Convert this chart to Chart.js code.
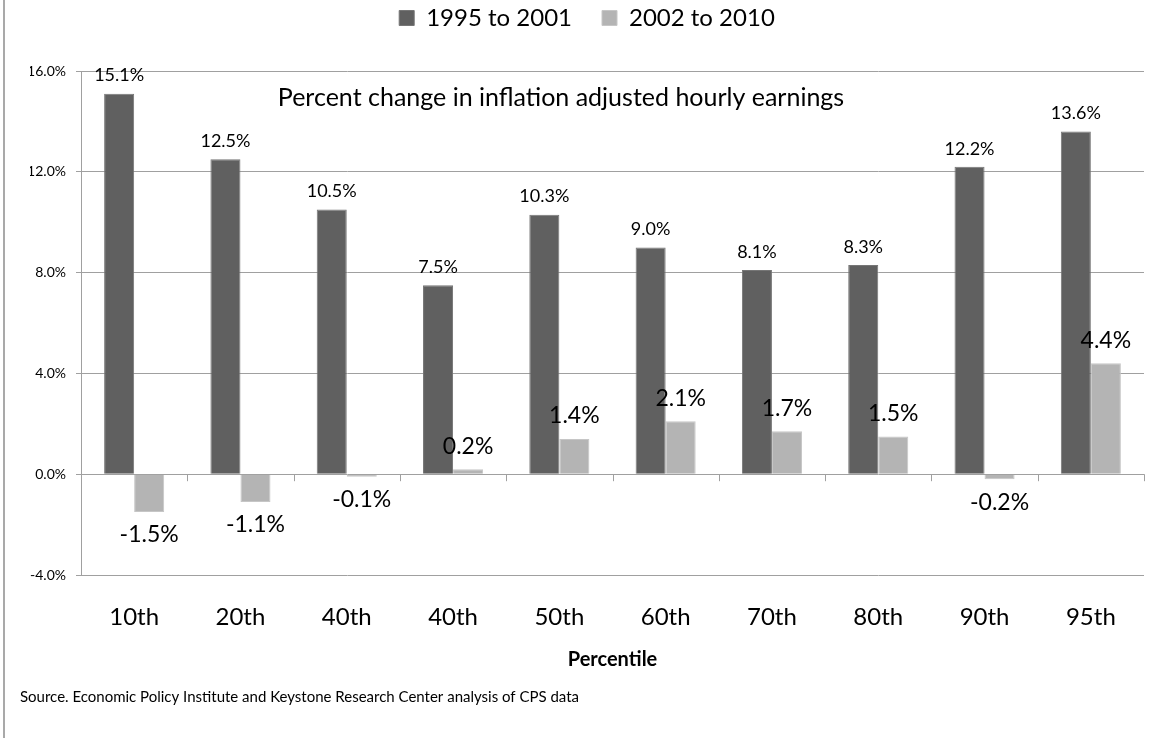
<!DOCTYPE html>
<html>
<head>
<meta charset="utf-8">
<script src="https://cdn.jsdelivr.net/npm/chart.js@4.4.1/dist/chart.umd.min.js"></script>
<style>
  html, body { margin: 0; padding: 0; background: #fff; }
  #wrap { position: relative; width: 1154px; height: 738px; }
  #edge { position: absolute; left: 3px; top: 0; width: 2px; height: 738px; background: #a9a9a9; }
  canvas { display: block; }
</style>
</head>
<body>
<div id="wrap">
  <div id="edge"></div>
  <canvas id="chart" width="1154" height="738"></canvas>
</div>
<script>
// percentile groups and the two periods
var percentiles = ['10th', '20th', '40th', '40th', '50th', '60th', '70th', '80th', '90th', '95th'];
var early = [15.1, 12.5, 10.5, 7.5, 10.3, 9.0, 8.1, 8.3, 12.2, 13.6];   // 1995 to 2001
var late = [-1.5, -1.1, -0.1, 0.2, 1.4, 2.1, 1.7, 1.5, -0.2, 4.4];      // 2002 to 2010
var seriesNames = ['1995 to 2001', '2002 to 2010'];
var yTicks = [-4, 0, 4, 8, 12, 16];

var FONT = 'Lato';
var pct = v => v.toFixed(1) + '%';

// value labels above / below every bar
var barLabels = {
  id: 'barLabels',
  afterDatasetsDraw(chart) {
    var ctx = chart.ctx;
    ctx.save();
    ctx.fillStyle = '#000';
    ctx.textAlign = 'center';
    ctx.textBaseline = 'middle';
    chart.data.datasets.forEach((ds, i) => {
      var meta = chart.getDatasetMeta(i);
      var size = i == 0 ? 18 : 23;
      var gap = i == 0 ? 18 : 23;
      ctx.font = size + 'px ' + FONT;
      meta.data.forEach((bar, j) => {
        var v = ds.data[j];
        var y = v >= 0 ? bar.y - gap : bar.y + gap;
        ctx.fillText(pct(v), bar.x, y);
      });
    });
    ctx.restore();
  }
};

// zero line ticks, note inside the plot, source line
var extras = {
  id: 'extras',
  afterDraw(chart) {
    var ctx = chart.ctx, a = chart.chartArea;
    var y0 = chart.scales.y.getPixelForValue(0);
    ctx.save();
    ctx.strokeStyle = '#a0a0a0';
    ctx.lineWidth = 1;
    var step = (a.right - a.left) / percentiles.length;
    for (var k = 1; k <= percentiles.length; k++) {
      var px = Math.round(a.left + step * k) + 0.5;
      ctx.beginPath();
      ctx.moveTo(px, y0);
      ctx.lineTo(px, y0 + 7);
      ctx.stroke();
    }
    ctx.fillStyle = '#000';
    ctx.textAlign = 'center';
    ctx.textBaseline = 'middle';
    ctx.font = '25px ' + FONT;
    ctx.fillText('Percent change in inflation adjusted hourly earnings', a.left + 480, a.top + 27);
    ctx.textAlign = 'left';
    ctx.font = '15px ' + FONT;
    ctx.fillText('Source. Economic Policy Institute and Keystone Research Center analysis of CPS data', 20, 697);
    ctx.restore();
  }
};

new Chart(document.getElementById('chart'), {
  type: 'bar',
  data: {
    labels: percentiles,
    datasets: [
      { label: seriesNames[0], data: early, backgroundColor: '#606060', borderColor: '#767676', borderWidth: 1 },
      { label: seriesNames[1], data: late, backgroundColor: '#b4b4b4', borderColor: '#c6c6c6', borderWidth: 1 }
    ]
  },
  options: {
    responsive: false,
    animation: false,
    datasets: { bar: { barPercentage: 1.0, categoryPercentage: 0.565 } },
    layout: { padding: { top: -24, left: 30, right: 10, bottom: 58 } },
    plugins: {
      legend: {
        position: 'top',
        labels: {
          color: '#000',
          font: { family: FONT, size: 24 },
          boxWidth: 15, boxHeight: 15, padding: 30
        }
      },
      tooltip: { enabled: false }
    },
    scales: {
      x: {
        grid: { display: false, drawTicks: false },
        border: { display: false },
        ticks: { color: '#000', font: { family: FONT, size: 24 }, padding: 28 },
        title: {
          display: true, text: 'Percentile', color: '#000',
          font: { family: FONT, size: 20, weight: 'bold' },
          padding: { top: 0, bottom: 8 }
        },
        afterFit: s => { s.height = 105; }
      },
      // empty strip between legend and plot
      gap: {
        type: 'linear', position: 'top', display: true,
        grid: { display: false, drawTicks: false },
        border: { display: false },
        ticks: { display: false },
        afterFit: s => { s.height = 31; }
      },
      y: {
        min: -4, max: 16,
        afterBuildTicks: s => { s.ticks = yTicks.map(v => ({ value: v })); },
        grid: { color: '#a0a0a0', lineWidth: 1, tickLength: 5 },
        border: { display: true, color: '#a0a0a0' },
        ticks: { color: '#000', font: { family: FONT, size: 14 }, padding: 10, callback: v => pct(v) },
        afterFit: s => { s.width = 51; }
      }
    }
  },
  plugins: [barLabels, extras]
});
</script>
</body>
</html>
